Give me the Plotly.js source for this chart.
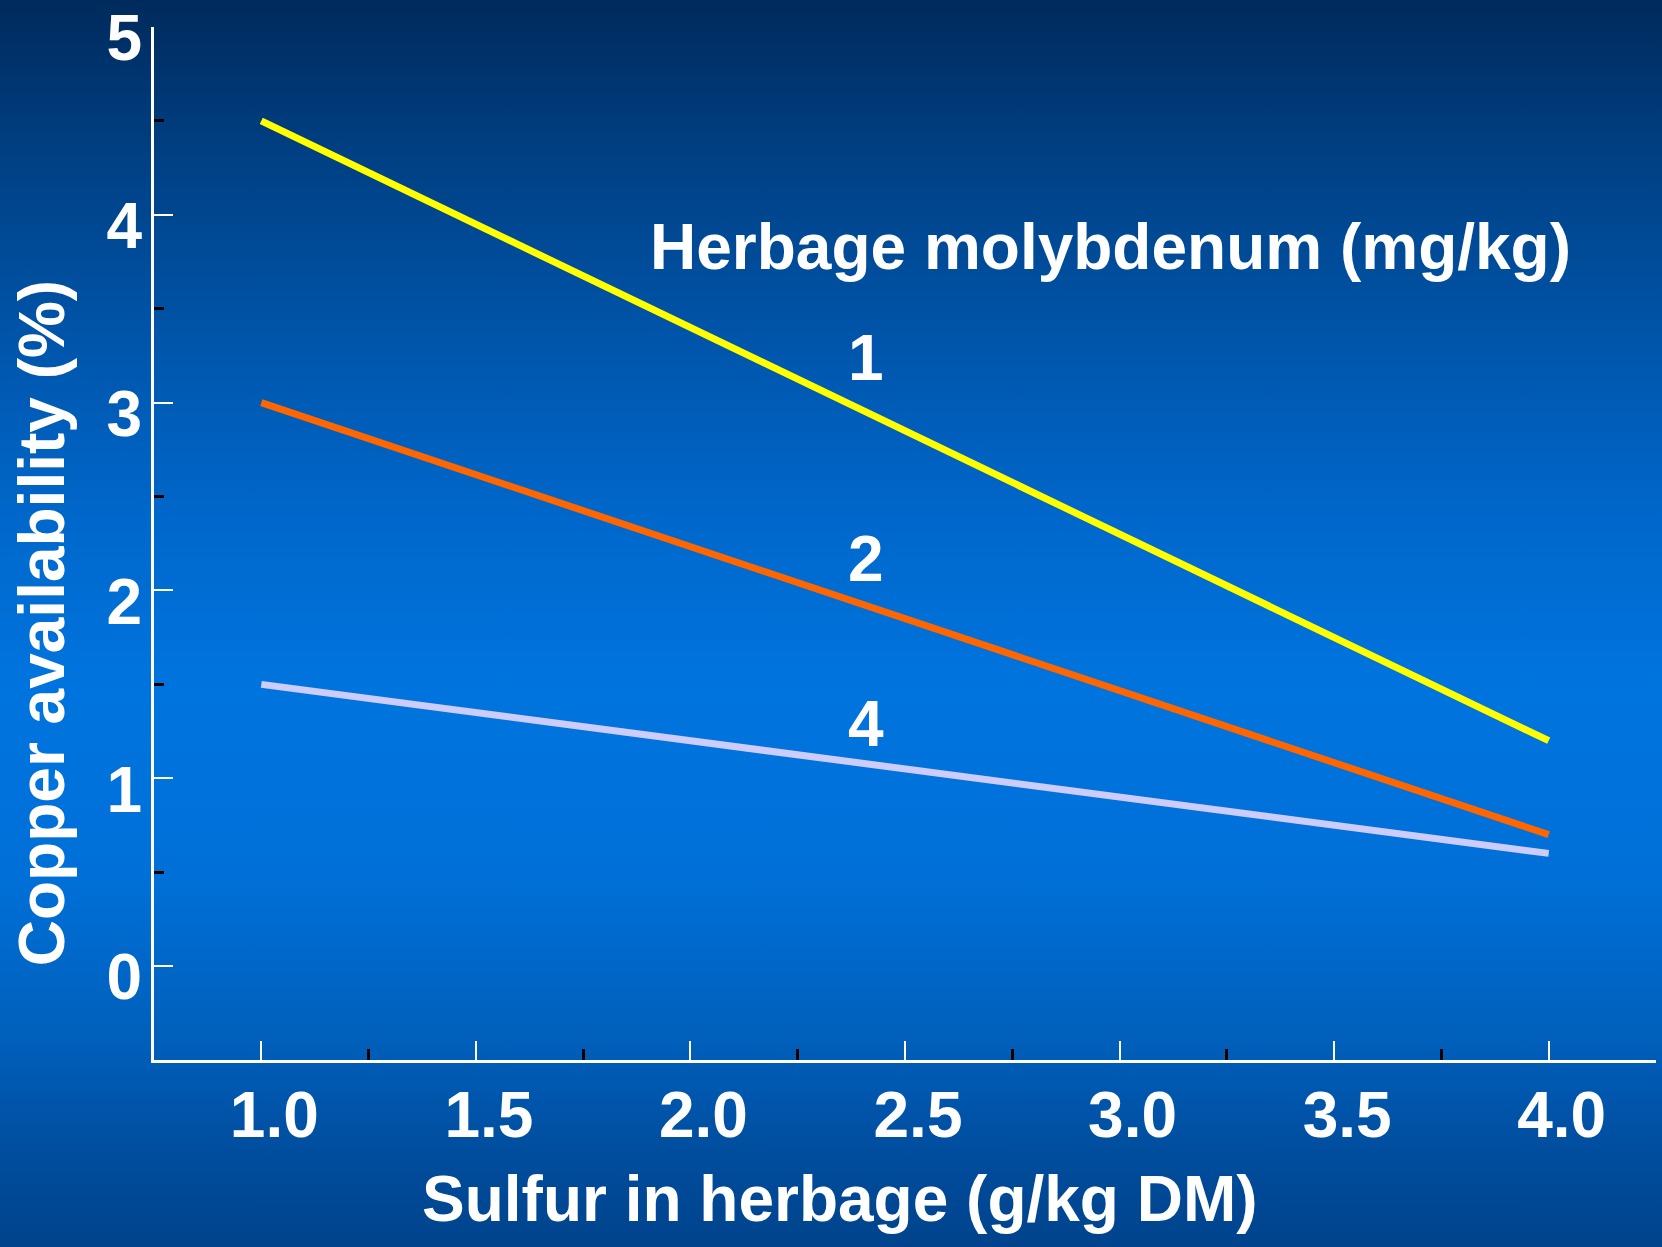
<!DOCTYPE html>
<html>
<head>
<meta charset="utf-8">
<script src="https://cdn.plot.ly/plotly-3.0.1.min.js"></script>
<style>
  html, body { margin: 0; padding: 0; }
  body {
    width: 1662px; height: 1247px; overflow: hidden;
    background: linear-gradient(to bottom, #002a5c 0%, #003f82 12%, #0056ac 28%, #0068cc 42%, #0074de 55%, #0070d8 70%, #0060bc 83%, #004c9c 93%, #00438c 100%);
  }
  #chart { width: 1662px; height: 1247px; }
</style>
</head>
<body>
<div id="chart"></div>
<script>
// Data
const sulfur = [1.0, 4.0];                 // g/kg DM
const copperMo1 = [4.5, 1.2];              // Mo = 1 mg/kg
const copperMo2 = [3.0, 0.7];              // Mo = 2 mg/kg
const copperMo4 = [1.5, 0.6];              // Mo = 4 mg/kg
const seriesNames = ['1', '2', '4'];
const seriesColors = ['#ffff00', '#ff6600', '#ccccff'];
const xTickVals = [1.0, 1.5, 2.0, 2.5, 3.0, 3.5, 4.0];
const xTickText = ['1.0', '1.5', '2.0', '2.5', '3.0', '3.5', '4.0'];
const yTickVals = [0, 1, 2, 3, 4, 5];
const xTitle = 'Sulfur in herbage (g/kg DM)';
const yTitle = 'Copper availability (%)';
const legendTitle = 'Herbage molybdenum (mg/kg)';
// label anchor points (data coords) for series labels
const labelX = [2.41, 2.41, 2.41];
const labelY = [3.24, 2.17, 1.29];

const FONT = 'Liberation Sans, Arial, sans-serif';
const ys = [copperMo1, copperMo2, copperMo4];

const traces = ys.map((y, i) => ({
  x: sulfur, y: y, type: 'scatter', mode: 'lines',
  name: seriesNames[i],
  line: { color: seriesColors[i], width: 7 },
  hoverinfo: 'skip'
}));
// overlay axis carrying the odd black top tick at y = 5
traces.push({ x: [sulfur[0]], y: [yTickVals[yTickVals.length - 1]], yaxis: 'y2', mode: 'markers',
  marker: { opacity: 0 }, showlegend: false, hoverinfo: 'skip' });

const annotations = seriesNames.map((n, i) => ({
  x: labelX[i], y: labelY[i], xref: 'x', yref: 'y', text: '<b>' + n + '</b>',
  showarrow: false, font: { family: FONT, size: 64, color: '#ffffff' },
  xanchor: 'center', yanchor: 'middle'
}));
annotations.push({
  x: 2.978, y: 3.83, xref: 'x', yref: 'y', text: '<b>' + legendTitle + '</b>',
  showarrow: false, font: { family: FONT, size: 64, color: '#ffffff' },
  xanchor: 'center', yanchor: 'middle'
});
annotations.push({
  x: 0.457, y: -0.1345, xref: 'paper', yref: 'paper', text: '<b>' + xTitle + '</b>',
  showarrow: false, font: { family: FONT, size: 64, color: '#ffffff' },
  xanchor: 'center', yanchor: 'middle'
});
annotations.push({
  x: -0.0746, y: 0.4228, xref: 'paper', yref: 'paper', text: '<b>' + yTitle + '</b>',
  textangle: -90, showarrow: false, font: { family: FONT, size: 64, color: '#ffffff' },
  xanchor: 'center', yanchor: 'middle'
});

const layout = {
  width: 1662, height: 1247,
  margin: { l: 154, r: 6, t: 27, b: 187 },
  paper_bgcolor: 'rgba(0,0,0,0)', plot_bgcolor: 'rgba(0,0,0,0)',
  showlegend: false,
  font: { family: FONT, color: '#ffffff' },
  xaxis: {
    range: [0.75, 4.25], showgrid: false, zeroline: false,
    showline: true, linecolor: '#ffffff', linewidth: 3,
    tickmode: 'array', tickvals: xTickVals, ticktext: xTickText,
    ticks: 'inside', ticklen: 19, tickwidth: 2, tickcolor: '#ffffff',
    tickfont: { family: FONT, size: 64, color: '#ffffff', weight: 'bold' },
    ticklabelstandoff: -3, ticklabelshift: 13, ticklabeloverflow: 'allow',
    minor: { tick0: 0.75, dtick: 0.5, ticks: 'inside', ticklen: 11, tickwidth: 3, tickcolor: '#000000', showgrid: false }
  },
  yaxis: {
    range: [-0.5, 5], showgrid: false, zeroline: false,
    showline: true, linecolor: '#ffffff', linewidth: 3,
    tickmode: 'array', tickvals: yTickVals,
    ticks: 'inside', ticklen: 19, tickwidth: 2, tickcolor: '#ffffff',
    tickfont: { family: FONT, size: 64, color: '#ffffff', weight: 'bold' },
    ticklabelstandoff: -4, ticklabelshift: 11, ticklabeloverflow: 'allow',
    minor: { tick0: 0.5, dtick: 1, ticks: 'inside', ticklen: 10, tickwidth: 3, tickcolor: '#000000', showgrid: false }
  },
  yaxis2: {
    overlaying: 'y', range: [-0.5, 5], showgrid: false, zeroline: false, showline: false,
    tickmode: 'array', tickvals: [yTickVals[yTickVals.length - 1]], showticklabels: false,
    ticks: 'inside', ticklen: 20, tickwidth: 3, tickcolor: '#000000', side: 'left'
  },
  annotations: annotations
};

Plotly.newPlot('chart', traces, layout, { displayModeBar: false, staticPlot: true });
</script>
</body>
</html>
